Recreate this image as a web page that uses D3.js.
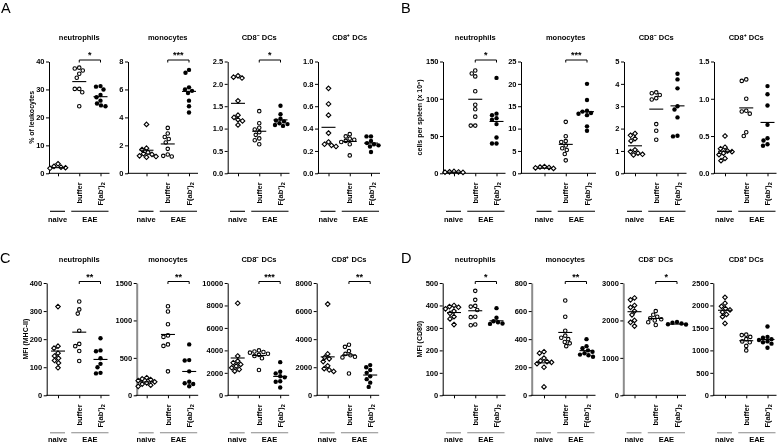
<!DOCTYPE html>
<html><head><meta charset="utf-8">
<script src="https://cdn.jsdelivr.net/npm/d3@7"></script>
<style>
body{margin:0;background:#fff}
#chart{will-change:transform;display:block}
text{font-family:"Liberation Sans",Arial,sans-serif;fill:#000}
</style>
</head><body>
<svg id="chart" width="778" height="444"></svg>
<script>
// ---------------- DATA ----------------
const groups = ["naive", "buffer", "F(ab')2"];
const cellTypes = ["neutrophils", "monocytes", "CD8⁻ DCs", "CD8⁺ DCs"];
const blockLetters = ["A", "B", "C", "D"];
const yTitles = ["% of leukocytes", "cells per spleen (x 10⁶)", "MFI (MHC-II)", "MFI (CD80)"];
const groupLabels = ["naive", "EAE"];

// each array: [naive, buffer, F(ab')2]
const A_neutrophils = [
  [3.4, 2.5, 2.2, 2.0, 1.8, 1.7, 1.6, 1.5, 1.5],
  [37.8, 37.5, 36.8, 35.6, 34.2, 30.2, 30.2, 29.0, 24.0],
  [31.2, 31.0, 30.0, 28.0, 27.2, 26.0, 25.0, 24.3, 24.0]];
const A_monocytes = [
  [3.5, 1.8, 1.7, 1.5, 1.4, 1.35, 1.25, 1.2, 1.15],
  [3.25, 2.85, 2.6, 2.45, 2.2, 1.75, 1.35, 1.25, 1.2],
  [7.4, 7.2, 6.15, 6.0, 5.9, 5.75, 5.2, 4.8, 4.35]];
const A_cd8neg = [
  [2.18, 2.15, 2.13, 1.62, 1.3, 1.25, 1.2, 1.17, 1.08],
  [1.39, 1.12, 1.02, 0.98, 0.92, 0.86, 0.78, 0.74, 0.65],
  [1.51, 1.32, 1.22, 1.18, 1.16, 1.12, 1.1, 1.08, 1.06]];
const A_cd8pos = [
  [0.76, 0.62, 0.52, 0.36, 0.28, 0.26, 0.25, 0.24],
  [0.35, 0.33, 0.31, 0.3, 0.29, 0.28, 0.26, 0.16],
  [0.33, 0.33, 0.29, 0.27, 0.26, 0.25, 0.24, 0.19]];
const B_neutrophils = [
  [2.5, 2.0, 1.8, 1.5, 1.2, 1.0, 1.0, 0.8],
  [138, 134, 130, 110, 92, 86, 76, 64, 64],
  [128, 80, 78, 74, 72, 66, 48, 40, 40]];
const B_monocytes = [
  [1.5, 1.4, 1.3, 1.2, 1.1, 1.0, 1.0, 0.9, 0.8],
  [11.5, 8.3, 7.2, 7.0, 6.2, 5.6, 5.2, 4.3, 2.9],
  [20.0, 16.4, 14.0, 13.8, 13.5, 13.3, 13.0, 10.5, 9.5]];
const B_cd8neg = [
  [1.78, 1.7, 1.55, 1.45, 1.05, 0.97, 0.9, 0.85, 0.82],
  [3.62, 3.58, 3.5, 3.36, 3.3, 2.2, 1.9, 1.5],
  [4.45, 4.2, 3.8, 3.0, 2.85, 2.5, 1.68, 1.65]];
const B_cd8pos = [
  [0.5, 0.35, 0.33, 0.3, 0.29, 0.27, 0.25, 0.2, 0.17],
  [1.26, 1.24, 1.0, 0.84, 0.83, 0.8, 0.55, 0.5],
  [1.17, 1.06, 0.91, 0.65, 0.47, 0.44, 0.39, 0.37]];
const C_neutrophils = [
  [316, 175, 168, 150, 140, 132, 124, 115, 98],
  [334, 306, 291, 230, 183, 175, 158, 122],
  [203, 160, 157, 132, 112, 100, 80, 78]];
const C_monocytes = [
  [235, 220, 210, 195, 180, 165, 150, 135, 120],
  [1190, 1120, 950, 800, 780, 680, 660, 320],
  [680, 470, 465, 320, 180, 160, 150, 120]];
const C_cd8neg = [
  [8200, 3500, 3050, 2900, 2750, 2600, 2450, 2300, 2150],
  [4000, 3900, 3850, 3800, 3700, 3600, 3500, 3300, 2250],
  [2950, 2100, 1950, 1700, 1600, 1250, 1200, 700]];
const C_cd8pos = [
  [6500, 2950, 2700, 2600, 2400, 2100, 1900, 1800, 1700],
  [3600, 3450, 3150, 2950, 2850, 2750, 2700, 1550],
  [2150, 2000, 1800, 1600, 1350, 1150, 900, 600]];
const D_neutrophils = [
  [400, 395, 392, 385, 375, 365, 350, 340, 315],
  [465, 425, 398, 395, 380, 350, 348, 315, 312],
  [388, 345, 330, 325, 320, 318, 315, 312]];
const D_monocytes = [
  [310, 300, 265, 245, 240, 235, 225, 200, 60],
  [675, 560, 460, 425, 410, 400, 380, 370, 350],
  [400, 350, 335, 320, 310, 300, 290, 285, 275]];
const D_cd8neg = [
  [2600, 2550, 2400, 2350, 2250, 2150, 2000, 1950, 1850],
  [2250, 2150, 2100, 2060, 2030, 2000, 1950, 1880],
  [1960, 1940, 1920, 1900, 1890, 1880, 1870, 1860]];
const D_cd8pos = [
  [2180, 2050, 1980, 1930, 1900, 1850, 1800, 1750, 1600],
  [1350, 1340, 1300, 1250, 1200, 1180, 1100, 1000],
  [1530, 1300, 1280, 1250, 1230, 1200, 1180, 1150, 1060]];

// y tick labels
const A_ticks = [[0,10,20,30,40],[0,2,4,6,8],[0,0.5,1,1.5,2,2.5],[0,0.2,0.4,0.6,0.8,1.0]];
const B_ticks = [[0,50,100,150],[0,5,10,15,20,25],[0,1,2,3,4,5],[0,0.5,1.0,1.5]];
const C_ticks = [[0,100,200,300,400],[0,500,1000,1500],[0,2000,4000,6000,8000,10000],[0,2000,4000,6000,8000]];
const D_ticks = [[0,100,200,300,400,500],[0,200,400,600,800],[0,1000,2000,3000],[0,500,1000,1500,2000,2500]];
const A_decimals = [0,0,1,1], B_decimals = [0,0,0,1], C_decimals = [0,0,0,0], D_decimals = [0,0,0,0];

// significance (buffer vs F(ab')2)
const A_sig = ["*", "***", "*", ""];
const B_sig = ["*", "***", "", ""];
const C_sig = ["**", "**", "***", "**"];
const D_sig = ["*", "**", "*", ""];

const blocks = [
  {data:[A_neutrophils, A_monocytes, A_cd8neg, A_cd8pos], ticks:A_ticks, dec:A_decimals, sig:A_sig},
  {data:[B_neutrophils, B_monocytes, B_cd8neg, B_cd8pos], ticks:B_ticks, dec:B_decimals, sig:B_sig},
  {data:[C_neutrophils, C_monocytes, C_cd8neg, C_cd8pos], ticks:C_ticks, dec:C_decimals, sig:C_sig},
  {data:[D_neutrophils, D_monocytes, D_cd8neg, D_cd8pos], ticks:D_ticks, dec:D_decimals, sig:D_sig}
];

// ---------------- LAYOUT ----------------
const rowTop = [61.5, 283];
const rowBottom = [173.3, 395.3];
const axisX = [[49,128,227.7,318],[443,521,624,714],[46.7,136.7,227.7,316.7],[442.7,531.7,623.3,713.3]];
const firstTick = [[58,146.5,238,328.5],[454,544.5,635,725],[58,146.7,237.7,327.7],[454,544,634.5,725]];
const catSpan = 42.5;
const grayAxis = [[false,false,false,false],[false,false,false,false],[false,true,false,false],[false,true,true,false]];
const letterPos = [[1,13],[401,13],[0,263],[401,263]];
const yTitleX = [31.7, 419.3, 25, 419.3];
const groupLineY = [211.3, 432.8];
const groupTextY = [222.3, 441.8];
const FONT = 7.5;

const svg = d3.select("#chart");

function swarm(values, yScale, cx, d) {
  const pts = values.map(v => ({v, y: yScale(v)})).sort((a, b) => a.y - b.y);
  const placed = [];
  pts.forEach(p => {
    for (let k = 0; k < 40; k++) {
      const off = (k % 2 === 0 ? 1 : -1) * Math.ceil(k / 2) * 0.5;
      const x = cx + off;
      if (placed.every(q => (q.x - x) ** 2 + (q.y - p.y) ** 2 >= d * d)) {
        p.x = x; placed.push(p); break;
      }
    }
  });
  return placed;
}

blocks.forEach((blk, bi) => {
  const row = bi < 2 ? 0 : 1;
  const top = rowTop[row], bottom = rowBottom[row];
  const lineColor = row === 0 ? "#000" : "#8a8a8a";

  svg.append("text").attr("x", letterPos[bi][0]).attr("y", letterPos[bi][1])
    .style("font-size", "14.5px").text(blockLetters[bi]);

  svg.append("text")
    .attr("transform", `translate(${yTitleX[bi] + 2.6},${(top + bottom) / 2}) rotate(-90)`)
    .attr("text-anchor", "middle").style("font-size", "7px").style("font-weight", "bold")
    .text(yTitles[bi]);

  blk.data.forEach((pdata, pi) => {
    const ax = axisX[bi][pi];
    const t1 = firstTick[bi][pi];
    const g = svg.append("g");
    const y = d3.scaleLinear().domain([0, d3.max(blk.ticks[pi])]).range([bottom, top]);
    const x = d3.scalePoint().domain(groups).range([t1, t1 + catSpan]);
    const xEnd = t1 + catSpan + 9;
    const axColor = grayAxis[bi][pi] ? "#8c8c8c" : "#000";
    const axW = grayAxis[bi][pi] ? 2 : 1;

    // y axis
    const yAx = g.append("g").attr("transform", `translate(${ax},0)`)
      .call(d3.axisLeft(y).tickValues(blk.ticks[pi]).tickSize(3).tickSizeOuter(0)
        .tickFormat(d => d3.format(`.${blk.dec[pi]}f`)(d)));
    yAx.select(".domain").attr("stroke", axColor).attr("stroke-width", axW);
    yAx.selectAll(".tick line").attr("stroke", "#000");
    yAx.selectAll(".tick text").attr("x", -4.5).style("font-size", FONT + "px")
      .style("font-weight", "bold").attr("fill", "#000").style("font-family", "'Liberation Sans',Arial,sans-serif");

    // x axis line and category ticks
    g.append("line").attr("x1", ax - (axW > 1 ? 1 : 0.5)).attr("x2", xEnd)
      .attr("y1", bottom).attr("y2", bottom).attr("stroke", "#000").attr("stroke-width", 1);
    const xAx = g.append("g").attr("transform", `translate(0,${bottom})`)
      .call(d3.axisBottom(x).tickSize(3).tickFormat(""));
    xAx.select(".domain").remove();
    xAx.selectAll(".tick line").attr("stroke", "#000");

    // title
    g.append("text").attr("x", t1 + catSpan / 2).attr("y", top - 21.5)
      .attr("text-anchor", "middle").style("font-size", "7.5px").style("font-weight", "bold")
      .text(cellTypes[pi]);

    // rotated group labels
    const labTop = bottom + 9;
    g.append("text").attr("transform", `translate(${x("buffer") + 2.7},${labTop}) rotate(-90)`)
      .attr("text-anchor", "end").style("font-size", FONT + "px").style("font-weight", "bold")
      .text("buffer");
    const ft = g.append("text").attr("transform", `translate(${x("F(ab')2") + 2.7},${labTop}) rotate(-90)`)
      .attr("text-anchor", "end").style("font-size", FONT + "px").style("font-weight", "bold");
    ft.append("tspan").text("F(ab')");
    ft.append("tspan").attr("dy", 2).style("font-size", "5.5px").text("2");

    // naive / EAE lines and labels
    const gl = groupLineY[row];
    const segs = [[x("naive") - 8, x("naive") + 7], [x("buffer") - 8, x("F(ab')2") + 8]];
    segs.forEach((s, i) => {
      g.append("line").attr("x1", s[0]).attr("x2", s[1]).attr("y1", gl).attr("y2", gl)
        .attr("stroke", lineColor).attr("stroke-width", 1.1);
      g.append("text").attr("x", (s[0] + s[1]) / 2).attr("y", groupTextY[row])
        .attr("text-anchor", "middle").style("font-size", FONT + "px").style("font-weight", "bold")
        .text(groupLabels[i]);
    });

    // significance bracket
    if (blk.sig[pi]) {
      const by = top - 1.5;
      const xb = x("buffer"), xf = x("F(ab')2");
      g.append("path").attr("d", `M${xb},${by + 2.5}V${by}H${xf}V${by + 2.5}`)
        .attr("fill", "none").attr("stroke", "#000").attr("stroke-width", 1);
      g.append("text").attr("x", (xb + xf) / 2).attr("y", by - 2)
        .attr("text-anchor", "middle").style("font-size", "9px").style("font-weight", "bold")
        .text(blk.sig[pi]);
    }

    // points
    pdata.forEach((vals, gi) => {
      const cx = x(groups[gi]);
      const pts = swarm(vals, y, cx, 4.4);
      const sel = g.append("g").selectAll("path").data(pts).enter();
      if (gi === 0) {
        sel.append("path").attr("d", d => `M${d.x},${d.y - 2.3}L${d.x + 2.3},${d.y}L${d.x},${d.y + 2.3}L${d.x - 2.3},${d.y}Z`)
          .attr("fill", "#fff").attr("stroke", "#000").attr("stroke-width", 1.1);
      } else if (gi === 1) {
        sel.append("circle").attr("cx", d => d.x).attr("cy", d => d.y).attr("r", 1.75)
          .attr("fill", "#fff").attr("stroke", "#000").attr("stroke-width", 1.1);
      } else {
        sel.append("circle").attr("cx", d => d.x).attr("cy", d => d.y).attr("r", 2.2)
          .attr("fill", "#000");
      }
      // mean line
      const m = d3.mean(vals);
      g.append("line").attr("x1", cx - 7).attr("x2", cx + 7).attr("y1", y(m)).attr("y2", y(m))
        .attr("stroke", "#000").attr("stroke-width", 1.1);
    });
  });
});
</script>
</body></html>
